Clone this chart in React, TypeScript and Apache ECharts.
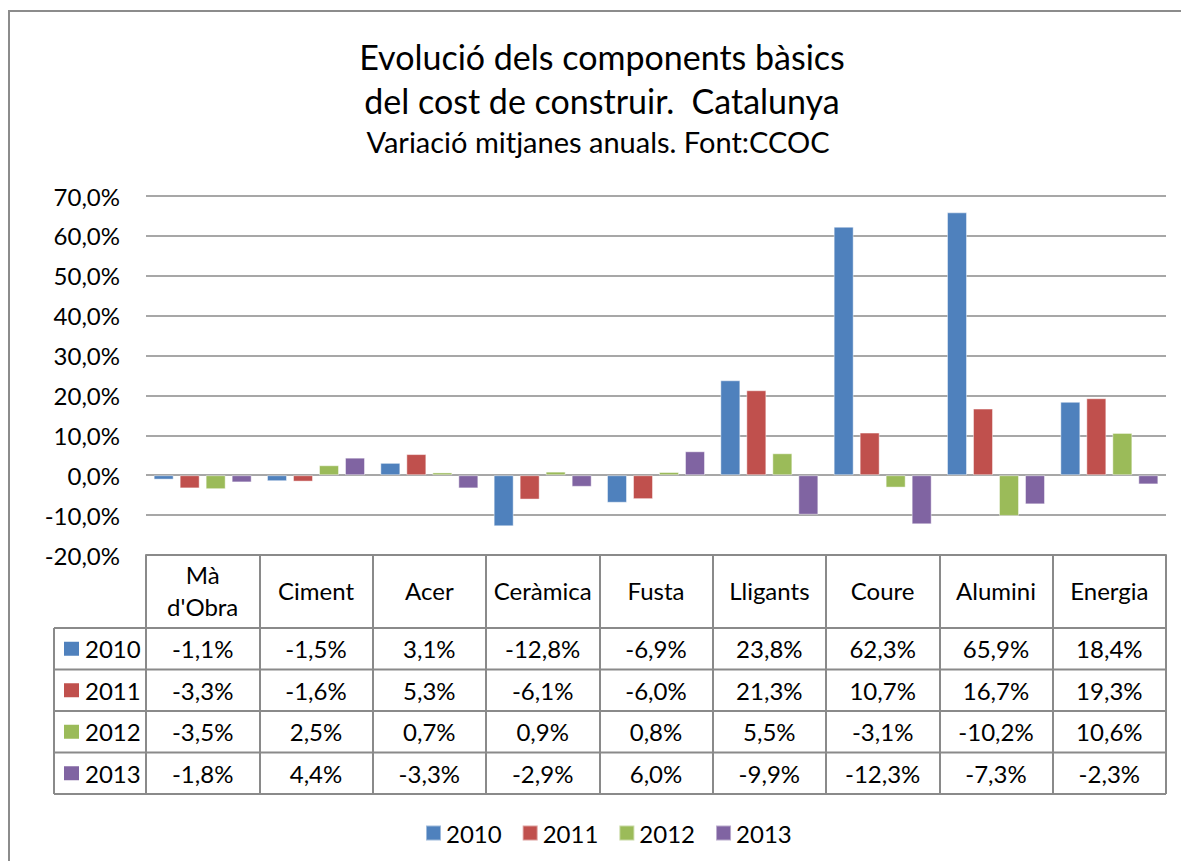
import React, { useEffect, useRef } from 'react';
import * as echarts from 'echarts';

const titleLines = ['Evolució dels components bàsics', 'del cost de construir.  Catalunya'];
const subtitle = 'Variació mitjanes anuals. Font:CCOC';
const categories = ["Mà\nd'Obra", 'Ciment', 'Acer', 'Ceràmica', 'Fusta', 'Lligants', 'Coure', 'Alumini', 'Energia'];
const years = ['2010', '2011', '2012', '2013'];
const v2010 = [-1.1, -1.5, 3.1, -12.8, -6.9, 23.8, 62.3, 65.9, 18.4];
const v2011 = [-3.3, -1.6, 5.3, -6.1, -6.0, 21.3, 10.7, 16.7, 19.3];
const v2012 = [-3.5, 2.5, 0.7, 0.9, 0.8, 5.5, -3.1, -10.2, 10.6];
const v2013 = [-1.8, 4.4, -3.3, -2.9, 6.0, -9.9, -12.3, -7.3, -2.3];
const seriesValues = [v2010, v2011, v2012, v2013];
const colors = ['#4F81BD', '#C0504D', '#9BBB59', '#8064A2'];
const yMin = -20;
const yMax = 70;
const yInterval = 10;

const FONT = 'Lato, "Open Sans", sans-serif';
const GRID_LEFT = 146;
const GRID_RIGHT = 1166;
const GRID_TOP = 196;
const GRID_BOTTOM = 555;
const HEADER_BOTTOM = 628;
const ROW_H = 41.5;
const TABLE_LEFT = 54;
const LINE_COLOR = '#8a8a8a';

const fmt = (v: number) => v.toFixed(1).replace('.', ',') + '%';

export default function App() {
  const ref = useRef<HTMLDivElement>(null);
  useEffect(() => {
    document.body.style.margin = '0';
    if (!ref.current) return;
    const chart = echarts.init(ref.current, undefined, { renderer: 'svg' });
    const colW = (GRID_RIGHT - GRID_LEFT) / categories.length;
    const tableBottom = HEADER_BOTTOM + ROW_H * years.length;

    const graphics: any[] = [];
    graphics.push({
      type: 'rect',
      shape: { x: 9, y: 11, width: 1200, height: 900 },
      style: { fill: 'none', stroke: '#8c8c8c', lineWidth: 2 },
      silent: true,
    });
    titleLines.forEach((t, i) => {
      graphics.push({
        type: 'text',
        x: 602,
        y: 56 + i * 44,
        style: { text: t, font: `34px ${FONT}`, fill: '#000', align: 'center', verticalAlign: 'middle', textAlign: 'center', textVerticalAlign: 'middle' },
      });
    });
    graphics.push({
      type: 'text',
      x: 598,
      y: 141,
      style: { text: subtitle, font: `29px ${FONT}`, fill: '#000', align: 'center', verticalAlign: 'middle', textAlign: 'center', textVerticalAlign: 'middle' },
    });
    for (let r = 0; r <= years.length; r++) {
      const y = HEADER_BOTTOM + r * ROW_H;
      graphics.push({
        type: 'line',
        shape: { x1: TABLE_LEFT, y1: y, x2: GRID_RIGHT, y2: y },
        style: { stroke: LINE_COLOR, lineWidth: 2 },
        silent: true,
      });
    }
    graphics.push({
      type: 'line',
      shape: { x1: TABLE_LEFT, y1: HEADER_BOTTOM, x2: TABLE_LEFT, y2: tableBottom },
      style: { stroke: LINE_COLOR, lineWidth: 2 },
      silent: true,
    });
    years.forEach((yr, r) => {
      const cy = HEADER_BOTTOM + (r + 0.5) * ROW_H;
      graphics.push({
        type: 'rect',
        shape: { x: 64, y: cy - 7, width: 15, height: 14 },
        style: { fill: colors[r] },
        silent: true,
      });
      graphics.push({
        type: 'text',
        x: 85,
        y: cy,
        style: { text: yr, font: `24px ${FONT}`, fill: '#000', align: 'left', verticalAlign: 'middle', textAlign: 'left', textVerticalAlign: 'middle' },
      });
      seriesValues[r].forEach((v, c) => {
        graphics.push({
          type: 'text',
          x: GRID_LEFT + (c + 0.5) * colW,
          y: cy,
          style: { text: fmt(v), font: `24px ${FONT}`, fill: '#000', align: 'center', verticalAlign: 'middle', textAlign: 'center', textVerticalAlign: 'middle' },
        });
      });
    });

    chart.setOption({
      animation: false,
      grid: { left: GRID_LEFT, top: GRID_TOP, width: GRID_RIGHT - GRID_LEFT, height: GRID_BOTTOM - GRID_TOP, containLabel: false },
      legend: {
        top: 816,
        left: 420,
        itemWidth: 15,
        itemHeight: 15,
        itemGap: 20,
        icon: 'rect',
        textStyle: { fontFamily: FONT, fontSize: 24, color: '#000' },
        data: years,
      },
      xAxis: {
        type: 'category',
        data: categories,
        position: 'bottom',
        axisLine: { show: true, onZero: false, lineStyle: { color: LINE_COLOR, width: 2 } },
        axisTick: { show: true, interval: 0, length: tableBottom - GRID_BOTTOM, lineStyle: { color: LINE_COLOR, width: 2 } },
        axisLabel: {
          interval: 0,
          margin: 35,
          verticalAlign: 'middle',
          lineHeight: 32,
          fontFamily: FONT,
          fontSize: 24,
          color: '#000',
        },
      },
      yAxis: {
        type: 'value',
        min: yMin,
        max: yMax,
        interval: yInterval,
        axisLine: { show: false },
        axisTick: { show: false },
        splitLine: { show: true, lineStyle: { color: LINE_COLOR, width: 1.5 } },
        axisLabel: {
          margin: 26,
          fontFamily: FONT,
          fontSize: 24,
          color: '#000',
          formatter: (v: number) => fmt(v),
        },
      },
      series: years.map((yr, i) => ({
        name: yr,
        type: 'bar',
        data: seriesValues[i],
        barWidth: 20,
        barGap: '30%',
        itemStyle: { color: colors[i], borderColor: 'rgba(255,255,255,0.45)', borderWidth: 1 },
      })),
      graphic: graphics,
    });
    return () => chart.dispose();
  }, []);
  return <div ref={ref} style={{ width: 1181, height: 861 }} />;
}
